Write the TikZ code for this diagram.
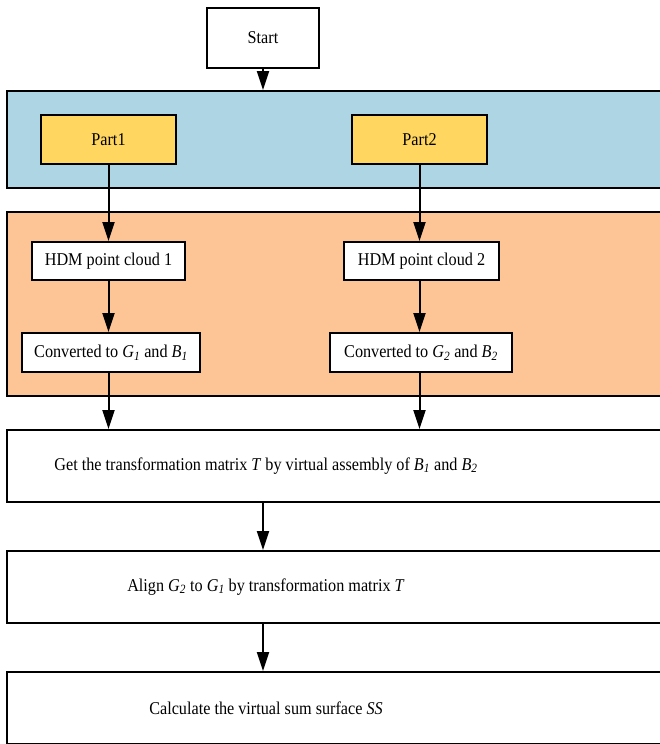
\documentclass[tikz,border=0pt]{standalone}
\usepackage{fontspec}
\setmainfont{Liberation Serif}[FakeStretch=0.9]
\usetikzlibrary{arrows.meta}
\newcommand\vsub[2]{\textit{#1}\textsubscript{\textit{#2}}}
\definecolor{panelblue}{RGB}{174,213,228}
\definecolor{partyellow}{RGB}{255,215,96}
\definecolor{panelorange}{RGB}{253,196,150}
\tikzset{
  box/.style={draw=black, line width=2pt, rectangle, inner sep=0pt, align=center, font=\fontsize{18}{21}\selectfont},
  panel/.style={draw=black, line width=2pt, rectangle, inner sep=0pt},
  flow/.style={line width=2pt, -{Triangle[length=19pt,width=12pt]}},
}
\begin{document}
\begin{tikzpicture}[x=1pt,y=-1pt]
\useasboundingbox (0,0) rectangle (659,744);
% panels
\node[panel, fill=panelblue, minimum width=663pt, minimum height=97pt] (pA) at (338.5,139.5) {};
\node[panel, fill=panelorange, minimum width=663pt, minimum height=184pt] (pB) at (338.5,304) {};
% nodes
\node[box, fill=white, minimum width=112pt, minimum height=60pt] (start) at (263,38) {Start};
\node[box, fill=partyellow, minimum width=135pt, minimum height=49pt] (p1) at (108.5,139.5) {Part1};
\node[box, fill=partyellow, minimum width=135pt, minimum height=49pt] (p2) at (419.5,139.5) {Part2};
\node[box, fill=white, minimum width=153pt, minimum height=38pt] (h1) at (108.5,261) {HDM point cloud 1};
\node[box, fill=white, minimum width=155pt, minimum height=38pt] (h2) at (421.5,261) {HDM point cloud 2};
\node[box, fill=white, minimum width=178pt, minimum height=39pt] (c1) at (111,352.5) {Converted to \vsub{G}{1} and \vsub{B}{1}};
\node[box, fill=white, minimum width=182pt, minimum height=39pt] (c2) at (421,352.5) {Converted to \vsub{G}{2} and \vsub{B}{2}};
\node[box, fill=white, minimum width=663pt, minimum height=72pt] (get) at (338.5,466) {};
\node[box, draw=none] (gettxt) at (266,466) {Get the transformation matrix \textit{T} by virtual assembly of \vsub{B}{1} and \vsub{B}{2}};
\node[box, fill=white, minimum width=663pt, minimum height=72pt] (align) at (338.5,587) {};
\node[box, draw=none] (aligntxt) at (266,587) {Align \vsub{G}{2} to \vsub{G}{1} by transformation matrix \textit{T}};
\node[box, fill=white, minimum width=663pt, minimum height=72pt] (calc) at (338.5,708) {};
\node[box, draw=none] (calctxt) at (266,708) {Calculate the virtual sum surface \textit{SS}};
% connectors
\draw[flow] (start.south) -- (start.south |- pA.north);
\draw[flow] (p1.south) -- (h1.north);
\draw[flow] (p2.south) -- (p2.south |- h2.north);
\draw[flow] (h1.south) -- (h1.south |- c1.north);
\draw[flow] (p2.south |- h2.south) -- (p2.south |- c2.north);
\draw[flow] (h1.south |- c1.south) -- (h1.south |- get.north);
\draw[flow] (p2.south |- c2.south) -- (p2.south |- get.north);
\draw[flow] (start.south |- get.south) -- (start.south |- align.north);
\draw[flow] (start.south |- align.south) -- (start.south |- calc.north);
\end{tikzpicture}
\end{document}
